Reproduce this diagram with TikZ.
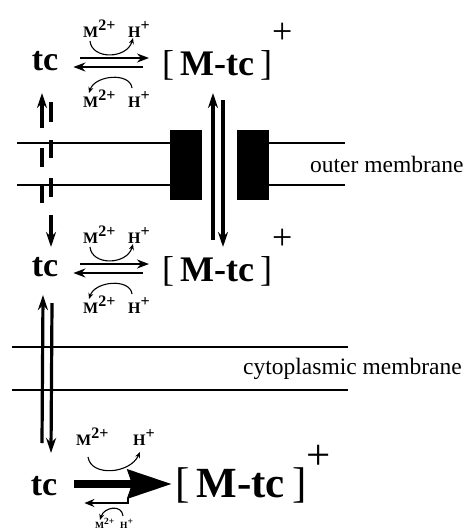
\documentclass[tikz,border=0pt]{standalone}
\usepackage{fontspec}
\setmainfont{Liberation Serif}
\usetikzlibrary{arrows.meta,positioning,calc}

\newcommand{\chg}[2]{#1\raisebox{0.42em}{#2}}
\newcommand{\mtc}[1]{[\,\textbf{M-tc}\,]\raisebox{#1}{+}}

\begin{document}
\begin{tikzpicture}[x=1pt,y=-1pt,>=Stealth,
  spc/.style={font=\bfseries\fontsize{34}{34}\selectfont,inner sep=0pt,anchor=base},
  cpx/.style={font=\fontsize{36}{36}\selectfont,inner sep=0pt,anchor=base west},
  lbl/.style={font=\bfseries\fontsize{16}{16}\selectfont,inner sep=0pt,anchor=base west},
  mem/.style={font=\fontsize{23.5}{23.5}\selectfont,inner sep=0pt,anchor=base west},
  memline/.style={line width=2pt},
  eq/.style={line width=2.8pt,-{Stealth[length=12pt,width=9pt]}},
  cyc/.style={line width=1.1pt,-{Stealth[length=6pt,width=5pt]}},
  tr/.style={line width=3.2pt,-{Stealth[length=15pt,width=10pt]}},
  porin/.style={fill,minimum width=32pt,minimum height=70pt,inner sep=0pt}]
  \useasboundingbox (0,0) rectangle (465,531);

  % membranes
  \node[porin] (pl) at (186,165) {};
  \node[porin] (pr) at (252.5,165) {};
  \draw[memline] (17,143) -- (pl.west |- 0,143) (pr.east |- 0,143) -- (345,143)
                 (17,185) -- (pl.west |- 0,185) (pr.east |- 0,185) -- (345,185);
  \draw[memline] (12,347) -- (348,347) (12,390) -- (348,390);
  \node[mem] (om) at (310,172) {outer membrane};
  \node[mem] (cm) at (243,374) {cytoplasmic membrane};

  % the two reversible steps
  \foreach \r/\dy in {a/0,b/206}{
    \node[spc] (tc\r) at (45,70+\dy) {tc};
    \node[cpx] (mtc\r) at (162,75+\dy) {\mtc{32pt}};
    \node[lbl] (mu\r) at (83,37+\dy) {\chg{M}{2+}};
    \node[lbl] (hu\r) at (128,37+\dy) {\chg{H}{+}};
    \node[lbl] (md\r) at (83,107+\dy) {\chg{M}{2+}};
    \node[lbl] (hd\r) at (128,107+\dy) {\chg{H}{+}};
    \draw[eq] ([shift={(22,-12)}]tc\r.base east) -- ([shift={(-13,-17)}]mtc\r.base west);
    \draw[eq] ([shift={(-19,-8)}]mtc\r.base west) -- ([shift={(15,-3)}]tc\r.base east);
    \draw[cyc] ([shift={(7,4)}]mu\r.base west) .. controls +(2,19) and +(-6,21) .. ([shift={(5,1)}]hu\r.base west);
    \draw[cyc] ([shift={(4,-19)}]hd\r.base west) .. controls +(-2,-16) and +(6,-18) .. ([shift={(6,-14)}]md\r.base west);
  }

  % cytoplasm
  \node[spc] (tcc) at (44,495) {tc};
  \node[cpx,font=\fontsize{43}{43}\selectfont] (mtcc) at (175,497) {\mtc{28pt}};
  \node[lbl] (muc) at (76,445) {\chg{M}{2+}};
  \node[lbl] (huc) at (133,445) {\chg{H}{+}};
  \node[lbl,font=\bfseries\fontsize{9.5}{9.5}\selectfont] (mdc) at (95,528) {\chg{M}{2+}};
  \node[lbl,font=\bfseries\fontsize{9.5}{9.5}\selectfont] (hdc) at (120,528) {\chg{H}{+}};
  \draw[cyc] ([shift={(12,12)}]muc.base west) .. controls +(3,20) and +(-10,22) .. ([shift={(7,7)}]huc.base west);
  \draw[line width=8pt,-{Stealth[length=44pt,width=28pt,inset=4pt]}]
    ([shift={(17,-11)}]tcc.base east) -- ([shift={(-3,-13)}]mtcc.base west);
  \draw[line width=2.5pt,-{Stealth[length=10pt,width=8pt]}]
    ([shift={(-47,1)}]mtcc.base west) |- ([shift={(27,8)}]tcc.base east);
  \draw[cyc] ([shift={(3,-12)}]hdc.base west) .. controls +(-1,-12) and +(4,-13) .. ([shift={(5,-8)}]mdc.base west);

  % transport
  \draw[tr,dash pattern=on 18pt off 18pt on 19pt off 20pt on 60pt]
    ([shift={(-3,-73)}]tcb.base) -- ([shift={(-3,23)}]tca.base);
  \draw[tr,dash pattern=on 20pt off 18pt on 18pt off 20pt on 19pt off 18pt on 60pt]
    ([shift={(6,32)}]tca.base) -- ([shift={(6,-29)}]tcb.base);
  \draw[tr] ([shift={(51,-41)}]mtcb.base west) -- ([shift={(51,18)}]mtca.base west);
  \draw[tr] ([shift={(61,25)}]mtca.base west) -- ([shift={(61,-34)}]mtcb.base west);
  \draw[tr] ([shift={(-2,-52)}]tcc.base) -- ([shift={(-2,19)}]tcb.base);
  \draw[tr] ([shift={(7,27)}]tcb.base) -- ([shift={(7,-42)}]tcc.base);
\end{tikzpicture}
\end{document}
